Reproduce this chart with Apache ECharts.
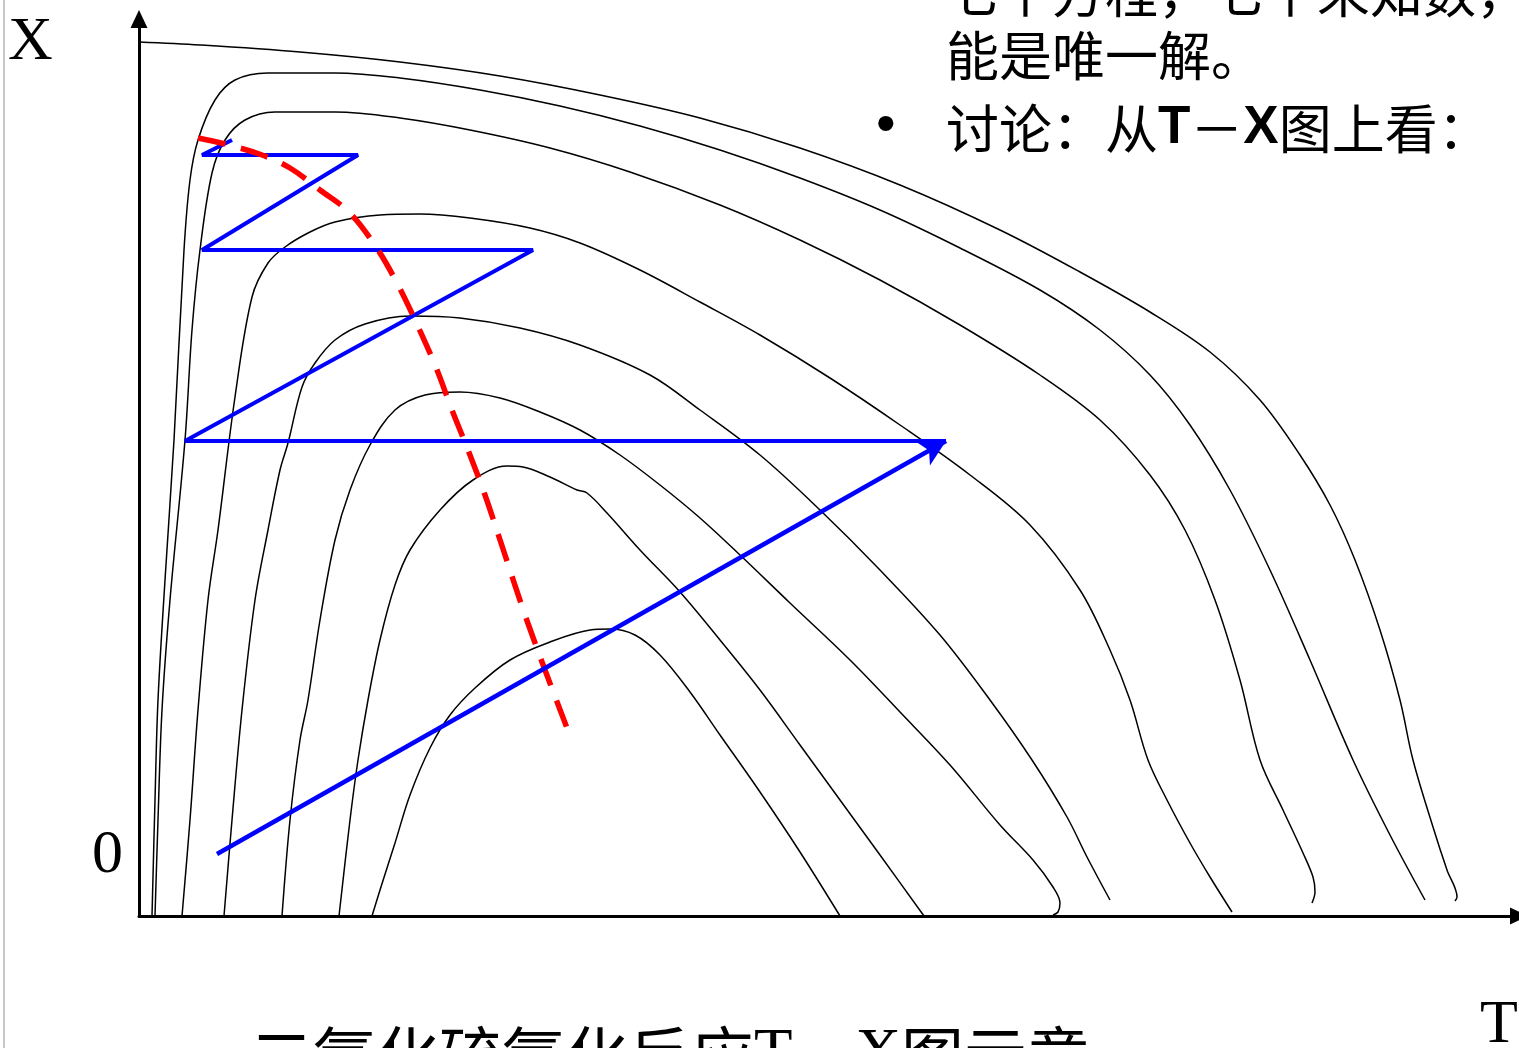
<!DOCTYPE html>
<html>
<head>
<meta charset="utf-8">
<script src="https://cdn.jsdelivr.net/npm/echarts@6/dist/echarts.min.js"></script>
<style>
  html, body { margin: 0; padding: 0; background: #ffffff; }
  #chart { width: 1519px; height: 1048px; }
</style>
</head>
<body>
<div id="chart"></div>
<script>
// T–X diagram for SO2 oxidation: constant-rate curves (T, X pairs in axis units)
const rateA = [[0,874],[61,871],[161,864],[261,854],[361,840],[461,821],[561,798],[661,768],[761,731],[861,686],[941,644],[1011,604],[1071,564],[1121,516],[1161,461],[1191,411],[1216,356],[1241,286],[1261,216],[1274,156],[1294,89],[1308,46],[1318,19],[1316,15]];
const rateB = [[13,0],[16,116],[19,216],[26,336],[35,476],[45,666],[51,736],[59,776],[76,816],[96,836],[129,843],[196,843],[261,838],[341,826],[421,810],[501,790],[581,766],[661,738],[741,706],[821,668],[901,626],[961,586],[1011,541],[1051,491],[1091,426],[1131,346],[1171,256],[1214,156],[1251,81],[1286,16]];
const rateC = [[16,0],[19,96],[23,206],[31,316],[46,476],[53,586],[61,666],[73,743],[86,776],[106,796],[136,804],[196,804],[261,798],[331,786],[411,768],[491,744],[581,711],[661,676],[741,636],[821,591],[901,541],[961,496],[1011,441],[1046,386],[1076,316],[1101,236],[1121,156],[1144,106],[1164,63],[1174,39],[1176,24],[1173,13]];
const rateD = [[43,0],[51,96],[59,206],[69,316],[79,386],[96,519],[113,619],[129,653],[146,669],[171,684],[196,694],[241,701],[281,702],[331,698],[391,688],[441,673],[501,646],[561,614],[621,581],[691,538],[761,491],[831,441],[891,391],[941,326],[971,266],[991,216],[1009,156],[1028,116],[1051,73],[1071,39],[1093,4]];
const rateE = [[85,0],[93,96],[103,206],[116,316],[129,386],[141,446],[149,473],[163,529],[176,553],[196,576],[226,592],[271,600],[321,598],[381,588],[441,571],[511,541],[561,506],[621,461],[681,406],[741,346],[801,281],[851,216],[893,156],[928,99],[948,59],[971,16]];
const rateF = [[143,0],[151,96],[161,176],[169,216],[181,296],[196,376],[211,426],[231,471],[256,506],[286,521],[321,524],[361,518],[401,504],[441,486],[481,461],[521,431],[561,398],[601,361],[651,313],[711,256],[761,204],[811,151],[861,91],[894,56],[914,29],[921,13],[919,4],[914,1]];
const rateG = [[200,0],[211,96],[219,156],[229,216],[241,276],[256,331],[271,366],[301,406],[334,436],[368,450],[384,449],[411,439],[438,426],[448,423],[468,403],[501,366],[541,324],[581,276],[621,226],[661,171],[701,116],[741,61],[785,0]];
const rateH = [[233,0],[241,26],[256,73],[271,121],[291,168],[311,201],[336,228],[371,256],[411,274],[451,286],[471,287],[496,281],[521,261],[551,224],[581,181],[621,124],[661,64],[701,0]];

// Locus of optimum temperatures
const optimumLine = [[59,778],[86,772],[123,761],[151,748],[181,726],[211,703],[239,666],[259,631],[276,596],[296,551],[313,506],[329,466],[346,421],[366,361],[386,301],[406,246],[428,188]];

// Multi-bed operating line: first adiabatic bed (arrow), then alternating cooling / reaction
const firstBed = [[78,62],[807,475]];
const operatingPath = [[807,475],[46,475],[394,666],[63,666],[219,761],[63,761],[93,776]];

const rateCurves = [rateA, rateB, rateC, rateD, rateE, rateF, rateG, rateH];

const cjk = '"Noto Sans CJK SC", "Noto Sans", sans-serif';
const serif = '"Liberation Serif", "DejaVu Serif", serif';
const sans = '"Liberation Sans", Arial, sans-serif';

const chart = echarts.init(document.getElementById('chart'), null, { renderer: 'canvas' });

const series = rateCurves.map(function (d) {
  return {
    type: 'line',
    data: d,
    smooth: 0.35,
    showSymbol: false,
    symbol: 'none',
    silent: true,
    lineStyle: { color: '#000000', width: 1.5 },
    z: 2
  };
});

series.push({
  type: 'line',
  data: optimumLine,
  smooth: 0.35,
  symbol: 'none',
  silent: true,
  lineStyle: { color: '#ff0000', width: 5.5, type: [28, 16] },
  z: 4
});

series.push({
  type: 'line',
  data: operatingPath,
  smooth: false,
  symbol: 'none',
  silent: true,
  lineStyle: { color: '#0000ff', width: 4 },
  z: 3,
  markLine: {
    silent: true,
    symbol: ['none', 'arrow'],
    symbolSize: [20, 26],
    label: { show: false },
    lineStyle: { color: '#0000ff', width: 4.5, type: 'solid' },
    data: [[{ coord: firstBed[0] }, { coord: firstBed[1] }]],
    animation: false
  }
});

chart.setOption({
  animation: false,
  backgroundColor: '#ffffff',
  grid: { left: 139, right: 0, top: 19, bottom: 132 },
  xAxis: {
    type: 'value',
    min: 0,
    max: 1380,
    axisLine: { show: true, lineStyle: { color: '#000000', width: 3 }, symbol: ['none', 'triangle'], symbolSize: [17, 18] },
    axisTick: { show: false },
    axisLabel: { show: false },
    splitLine: { show: false }
  },
  yAxis: {
    type: 'value',
    min: 0,
    max: 897,
    axisLine: { show: true, lineStyle: { color: '#000000', width: 3 }, symbol: ['none', 'triangle'], symbolSize: [17, 18] },
    axisTick: { show: false },
    axisLabel: { show: false },
    splitLine: { show: false }
  },
  graphic: [
    { type: 'line', shape: { x1: 4, y1: 0, x2: 4, y2: 1048 }, style: { stroke: '#c8c8c8', lineWidth: 2 }, silent: true },
    { type: 'text', left: 8, top: 12, style: { text: 'X', font: '62px ' + serif, fill: '#000000' } },
    { type: 'text', left: 92, top: 825, style: { text: '0', font: '62px ' + serif, fill: '#000000' } },
    { type: 'text', left: 1480, top: 995, style: { text: 'T', font: '62px ' + serif, fill: '#000000' } },
    { type: 'text', left: 876, top: -36, style: { text: '•', font: '56px ' + sans, fill: '#000000' } },
    { type: 'text', left: 946, top: -34, style: { text: '七个方程，七个未知数，可', font: '53px ' + cjk, fill: '#000000' } },
    { type: 'text', left: 946, top: 29, style: { text: '能是唯一解。', font: '53px ' + cjk, fill: '#000000' } },
    { type: 'text', left: 876, top: 99, style: { text: '•', font: '56px ' + sans, fill: '#000000' } },
    {
      type: 'text', left: 946, top: 102,
      style: {
        text: '{c|讨论：从}{b|T}{c|－}{b|X}{c|图上看：}',
        rich: {
          c: { font: '53px ' + cjk, fill: '#000000' },
          b: { font: 'bold 53px ' + sans, fill: '#000000' }
        }
      }
    },
    {
      type: 'text', left: 250, top: 1024,
      style: {
        text: '{c|二氧化硫氧化反应}{s|T}{c|－}{s|X}{c|图示意}',
        rich: {
          c: { font: '63px ' + cjk, fill: '#000000' },
          s: { font: '63px ' + serif, fill: '#000000' }
        }
      }
    }
  ],
  series: series
});
</script>
</body>
</html>
